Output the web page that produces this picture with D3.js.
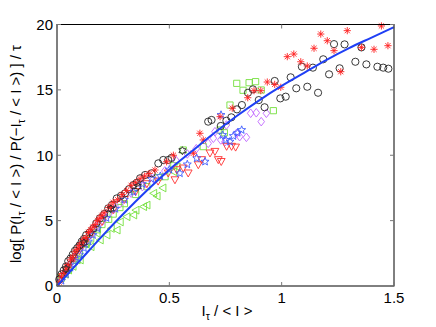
<!DOCTYPE html>
<html lang="en">
<head>
<meta charset="UTF-8">
<title>log ratio scatter</title>
<script src="https://d3js.org/d3.v7.min.js"></script>
<style>
  body { margin: 0; background: #fff; }
  svg text { font-family: "Liberation Sans", Arial, Helvetica, sans-serif; fill: #000; }
</style>
</head>
<body>
<div id="chart"></div>
<script>
// ---- data ----
const xTicks = [0, 0.5, 1, 1.5];
const yTicks = [0, 5, 10, 15, 20];
const xTickLabels = ["0", "0.5", "1", "1.5"];
const yTickLabels = ["0", "5", "10", "15", "20"];

// blue fitted curve
const fitLine = [[0,0],[0.1,1.9],[0.2,3.8],[0.3,5.6],[0.4,7.3],[0.5,8.9],[0.6,10.3],[0.7,11.7],
  [0.8,13.0],[0.9,14.2],[1.0,15.3],[1.1,16.3],[1.2,17.3],[1.3,18.2],[1.4,19.0],[1.5,19.8]];

// red asterisks
const redAsterisk = [[0.01,0.3],[0.02,0.7],[0.03,1.0],[0.04,1.3],[0.05,1.6],[0.06,2.0],[0.07,2.2],
  [0.08,2.6],[0.09,2.8],[0.1,3.1],[0.11,3.3],[0.12,3.6],[0.13,3.7],[0.14,4.1],[0.15,4.3],[0.16,4.5],
  [0.17,4.7],[0.18,5.0],[0.19,5.2],[0.2,5.4],[0.21,5.6],[0.23,6.0],[0.24,6.1],[0.25,6.4],[0.27,6.6],
  [0.29,7.0],[0.31,7.3],[0.33,7.7],[0.35,7.9],[0.37,8.2],[0.39,8.4],[0.41,8.6],[0.436,8.87],
  [0.488,9.5],[0.518,10.0],[0.607,10.15],[0.636,11.68],[0.651,11.17],[0.726,12.95],[0.78,13.6],
  [0.849,14.4],[0.877,14.94],[0.907,14.94],[0.936,15.6],[0.969,15.42],[0.996,15.2],[1.025,17.54],
  [1.054,17.74],[1.085,17.15],[1.114,16.83],[1.144,18.18],[1.174,19.27],[1.203,18.76],[1.233,18.0],
  [1.263,16.39],[1.292,19.53],[1.355,18.25],[1.411,18.1],[1.444,19.89],[1.473,18.38]];

// black circles
const blackCircle = [[0.01,0.5],[0.02,0.9],[0.03,1.2],[0.04,1.5],[0.05,1.9],[0.06,2.1],[0.07,2.4],
  [0.08,2.7],[0.09,2.9],[0.1,3.1],[0.11,3.4],[0.12,3.6],[0.13,3.9],[0.145,4.1],[0.162,4.41],
  [0.175,4.8],[0.191,5.18],[0.21,5.5],[0.228,5.94],[0.245,6.2],[0.266,6.7],[0.285,6.9],[0.303,7.09],
  [0.32,7.4],[0.34,7.72],[0.355,7.9],[0.37,8.24],[0.392,8.49],[0.421,8.62],[0.451,9.38],[0.473,9.64],
  [0.495,9.64],[0.51,9.8],[0.673,12.57],[0.688,12.7],[0.729,12.24],[0.754,12.64],[0.776,12.9],
  [0.801,13.51],[0.823,13.84],[0.85,14.78],[0.872,15.04],[0.898,14.22],[0.924,13.67],[0.969,15.68],
  [0.994,14.35],[1.018,14.48],[1.04,15.96],[1.065,15.12],[1.09,16.77],[1.114,15.24],[1.139,16.7],
  [1.162,14.78],[1.185,17.34],[1.211,16.19],[1.233,18.5],[1.258,16.65],[1.28,18.48],[1.328,17.15],
  [1.355,18.25],[1.377,16.95],[1.426,16.77],[1.452,16.7],[1.475,16.62]];

// green squares
const greenSquare = [[0.02,0.6],[0.05,1.3],[0.08,2.1],[0.1,2.6],[0.13,3.2],[0.15,3.6],[0.18,4.3],
  [0.2,4.7],[0.23,5.1],[0.25,5.5],[0.28,6.0],[0.3,6.3],[0.35,7.0],[0.4,7.6],[0.45,8.3],[0.481,8.36],
  [0.52,9.2],[0.562,10.4],[0.651,10.66],[0.726,11.93],[0.745,11.72],[0.77,13.84],[0.8,15.5],
  [0.828,14.97],[0.855,15.55],[0.884,15.63],[0.909,14.99],[0.963,13.41]];

// green left-pointing triangles
const greenTriangle = [[0.018,0.84],[0.035,0.9],[0.05,1.22],[0.07,1.5],[0.088,1.99],[0.102,1.99],
  [0.125,3.27],[0.15,3.0],[0.177,4.03],[0.191,3.52],[0.221,3.9],[0.24,4.4],[0.266,4.28],[0.28,4.9],
  [0.31,5.3],[0.34,5.43],[0.35,5.8],[0.384,6.07],[0.399,6.19],[0.429,7.09],[0.444,6.88],[0.47,7.5],
  [0.518,8.74],[0.533,9.12]];

// purple diamonds
const purpleDiamond = [[0.03,0.9],[0.055,1.6],[0.08,2.2],[0.105,2.9],[0.13,3.4],[0.155,4.0],
  [0.18,4.6],[0.205,5.0],[0.23,5.5],[0.255,5.9],[0.28,6.3],[0.33,7.1],[0.38,7.6],[0.43,8.2],[0.48,8.8],
  [0.53,9.6],[0.58,10.1],[0.62,10.5],[0.673,10.91],[0.696,11.3],[0.703,11.8],[0.729,11.17],
  [0.748,11.04],[0.754,12.31],[0.8,11.68],[0.813,11.42],[0.843,11.37],[0.862,13.21],[0.887,13.25],
  [0.909,12.57],[0.932,13.21]];

// red down-pointing triangles
const redTriangle = [[0.025,0.7],[0.05,1.4],[0.075,2.1],[0.1,2.7],[0.125,3.3],[0.15,3.9],[0.2,4.9],
  [0.25,5.8],[0.3,6.6],[0.35,7.2],[0.4,7.8],[0.45,8.0],[0.495,8.62],[0.525,8.1],[0.533,8.87],
  [0.562,9.0],[0.584,8.62],[0.629,9.25],[0.644,9.64],[0.681,10.15],[0.703,10.27],[0.718,9.64],
  [0.731,9.5],[0.755,10.66],[0.777,10.66],[0.795,10.6]];

// blue pentagrams
const bluePentagram = [[0.02,0.4],[0.04,0.9],[0.06,1.4],[0.08,1.9],[0.1,2.4],[0.12,2.9],[0.14,3.4],
  [0.16,3.9],[0.18,4.4],[0.22,5.2],[0.26,5.9],[0.3,6.6],[0.34,7.2],[0.38,7.8],[0.42,8.2],[0.46,8.4],
  [0.5,8.9],[0.547,8.62],[0.58,9.3],[0.622,9.77],[0.659,9.51],[0.73,13.08],[0.737,11.55],
  [0.752,11.17],[0.77,11.04],[0.785,11.47],[0.804,11.72],[0.822,11.93]];

// black hexagrams
const blackHexagram = [[0.04,1.3],[0.12,3.3],[0.24,5.9],[0.36,7.6],[0.558,10.35]];

// ---- layout ----
const W = 436, H = 327;
const plot = { left: 57, right: 394, top: 24.5, bottom: 286 };

const svg = d3.select("#chart").append("svg")
  .attr("width", W).attr("height", H);

svg.append("rect").attr("width", W).attr("height", H).attr("fill", "#fff");

const x = d3.scaleLinear().domain([0, 1.5]).range([plot.left, plot.right]);
const y = d3.scaleLinear().domain([0, 20]).range([plot.bottom, plot.top]);

// marker shapes, MATLAB style
const r = 3.6;
function starPath(n, ro, ri) {
  let p = "";
  for (let i = 0; i < 2 * n; i++) {
    const a = -Math.PI / 2 + i * Math.PI / n;
    const rr = i % 2 === 0 ? ro : ri;
    p += (i === 0 ? "M" : "L") + (rr * Math.cos(a)).toFixed(2) + "," + (rr * Math.sin(a)).toFixed(2);
  }
  return p + "Z";
}
const d = r * 0.72;
const shapes = {
  asterisk: `M${-r},0H${r}M0,${-r}V${r}M${-d},${-d}L${d},${d}M${-d},${d}L${d},${-d}`,
  circle: `M${r},0A${r},${r} 0 1,1 ${-r},0A${r},${r} 0 1,1 ${r},0Z`,
  square: "M-3.1,-3.1H3.1V3.1H-3.1Z",
  left: "M-3.7,0L3.3,-3.9L3.3,3.9Z",
  down: "M-3.9,-3.3L3.9,-3.3L0,3.7Z",
  diamond: "M0,-4.3L3.3,0L0,4.3L-3.3,0Z",
  pentagram: starPath(5, 4.2, 1.8),
  hexagram: starPath(6, 4, 2.3)
};

const series = [
  { data: greenTriangle, shape: "left", color: "#74e03c" },
  { data: greenSquare, shape: "square", color: "#74e03c" },
  { data: purpleDiamond, shape: "diamond", color: "#c066ff" },
  { data: redTriangle, shape: "down", color: "#ff3030" },
  { data: bluePentagram, shape: "pentagram", color: "#3e5cff" },
  { data: blackCircle, shape: "circle", color: "#222" },
  { data: redAsterisk, shape: "asterisk", color: "#ff2020" },
  { data: blackHexagram, shape: "hexagram", color: "#222" }
];

const gMarks = svg.append("g");
series.forEach(s => {
  gMarks.append("g")
    .selectAll("path")
    .data(s.data)
    .join("path")
    .attr("transform", p => `translate(${x(p[0])},${y(p[1])})`)
    .attr("d", shapes[s.shape])
    .attr("fill", "none")
    .attr("stroke", s.color)
    .attr("stroke-width", 0.9);
});

// fitted curve
svg.append("path")
  .datum(fitLine)
  .attr("d", d3.line().x(p => x(p[0])).y(p => y(p[1])).curve(d3.curveMonotoneX))
  .attr("fill", "none")
  .attr("stroke", "#1f3ff5")
  .attr("stroke-width", 2);

// box
svg.append("rect")
  .attr("x", plot.left).attr("y", plot.top)
  .attr("width", plot.right - plot.left).attr("height", plot.bottom - plot.top)
  .attr("fill", "none").attr("stroke", "#000").attr("stroke-width", 1);

// ticks (inward, on all four sides) and labels
const tickLen = 4;
const gAxes = svg.append("g").attr("stroke", "#777").attr("stroke-width", 1);
xTicks.forEach(t => {
  gAxes.append("line").attr("x1", x(t)).attr("x2", x(t)).attr("y1", plot.bottom).attr("y2", plot.bottom - tickLen);
  gAxes.append("line").attr("x1", x(t)).attr("x2", x(t)).attr("y1", plot.top).attr("y2", plot.top + tickLen);
});
yTicks.forEach(t => {
  gAxes.append("line").attr("y1", y(t)).attr("y2", y(t)).attr("x1", plot.left).attr("x2", plot.left + tickLen);
  gAxes.append("line").attr("y1", y(t)).attr("y2", y(t)).attr("x1", plot.right).attr("x2", plot.right - tickLen);
});

svg.append("g").selectAll("text")
  .data(xTicks)
  .join("text")
  .attr("x", t => x(t))
  .attr("y", 303)
  .attr("text-anchor", "middle")
  .attr("font-size", 15)
  .text((t, i) => xTickLabels[i]);

svg.append("g").selectAll("text")
  .data(yTicks)
  .join("text")
  .attr("x", plot.left - 4)
  .attr("y", t => y(t) + 5.3)
  .attr("text-anchor", "end")
  .attr("font-size", 15)
  .text((t, i) => yTickLabels[i]);

// x label: I_tau / < I >
const xl = svg.append("text")
  .attr("x", 227).attr("y", 316)
  .attr("text-anchor", "middle")
  .attr("font-size", 15);
xl.append("tspan").text("I");
xl.append("tspan").attr("dy", 4).attr("font-size", 10.5).text("τ");
xl.append("tspan").attr("dy", -4).text(" / < I >");

// y label
const yl = svg.append("text")
  .attr("transform", "translate(21,154) rotate(-90)")
  .attr("text-anchor", "middle")
  .attr("font-size", 15);
yl.append("tspan").text("log[ P(I");
yl.append("tspan").attr("dy", 4).attr("font-size", 10.5).text("τ");
yl.append("tspan").attr("dy", -4).text(" / < I >) / P(−I");
yl.append("tspan").attr("dy", 4).attr("font-size", 10.5).text("τ");
yl.append("tspan").attr("dy", -4).text(" / < I >) ] / τ");
</script>
</body>
</html>
